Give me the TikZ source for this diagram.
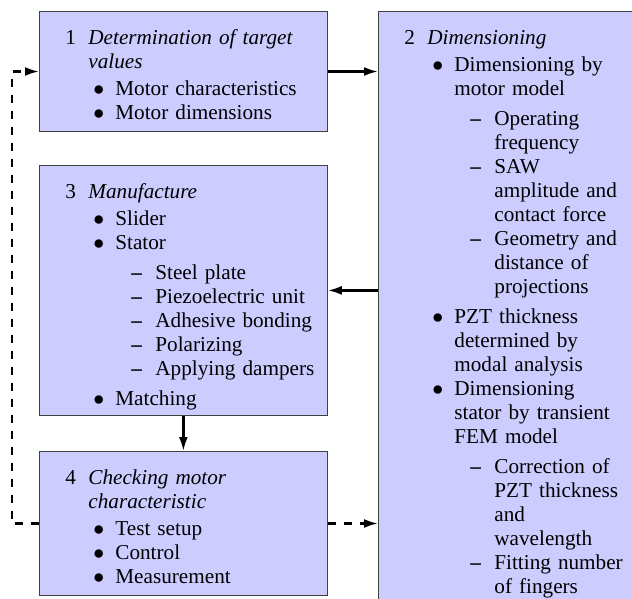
\documentclass[tikz,border=0pt]{standalone}
\usepackage{fontspec}
\setmainfont{Liberation Serif}
\usepackage{enumitem}
\usepackage{tikz}
\usetikzlibrary{arrows.meta}

\setlist[itemize,1]{label=$\bullet$, leftmargin=36pt, labelwidth=11pt, labelsep=0pt, align=left, topsep=1.5pt, partopsep=0pt, parsep=0pt, itemsep=0pt}
\setlist[itemize,2]{label=\textbf{\textendash}, leftmargin=20pt, labelwidth=12pt, labelsep=0pt, align=left, topsep=3pt, partopsep=0pt, parsep=0pt, itemsep=0pt}

\newcommand{\steptitle}[2]{\hangindent=22.5pt\hangafter=1\rule{0pt}{10.5pt}\hspace*{11pt}\makebox[11.5pt][l]{#1}\textit{#2}\par}

\tikzset{
	stepblock/.style={draw=black!75, fill=blue!20, anchor=north west, text width=140pt, inner xsep=2pt, inner ysep=6pt, align=left, font=\fontsize{10.6}{12}\selectfont},
	flow/.style={-{Latex[length=7pt,width=4.5pt]}, very thick},
	feedback/.style={flow, dash pattern=on 4pt off 4pt}
}

\begin{document}
\begin{tikzpicture}[x=0.5pt, y=-0.5pt]
	\useasboundingbox (0,0) rectangle (632,599);
	\node[stepblock] (target) at (39,11) {\steptitle{1}{Determination of target\newline values}
		\begin{itemize}
			\item Motor characteristics
			\item Motor dimensions
		\end{itemize}};
	\node[stepblock, text depth=300pt] (dimension) at (378,11) {\steptitle{2}{Dimensioning}
		\begin{itemize}
			\item Dimensioning by\newline motor model
			\begin{itemize}
				\item Operating\newline frequency
				\item SAW\newline amplitude and\newline contact force
				\item Geometry and\newline distance of\newline projections
			\end{itemize}
			\item PZT thickness\newline determined by\newline modal analysis
			\item Dimensioning\newline stator by transient\newline FEM model
			\begin{itemize}
				\item Correction of\newline PZT thickness\newline and\newline wavelength
				\item Fitting number\newline of fingers
			\end{itemize}
		\end{itemize}};
	\node[stepblock, text depth=102.5pt] (manufacture) at (39,165) {\steptitle{3}{Manufacture}
		\begin{itemize}
			\item Slider
			\item Stator
			\begin{itemize}
				\item Steel plate
				\item Piezoelectric unit
				\item Adhesive bonding
				\item Polarizing
				\item Applying dampers
			\end{itemize}
			\item Matching
		\end{itemize}};
	\node[stepblock] (check) at (39,451) {\steptitle{4}{Checking motor\newline characteristic}
		\begin{itemize}
			\item Test setup
			\item Control
			\item Measurement
		\end{itemize}};
	\coordinate (back) at (12,0);

	\draw[flow] (target.east) -- (target.east -| dimension.west);
	\draw[flow] (manufacture.east -| dimension.west) -- (manufacture.east);
	\draw[flow] (manufacture.south) -- (check.north);
	\draw[feedback] (check.east) -- (check.east -| dimension.west);
	\draw[feedback] (check.west) -- (check.west -| back) |- (target.west);
\end{tikzpicture}
\end{document}
